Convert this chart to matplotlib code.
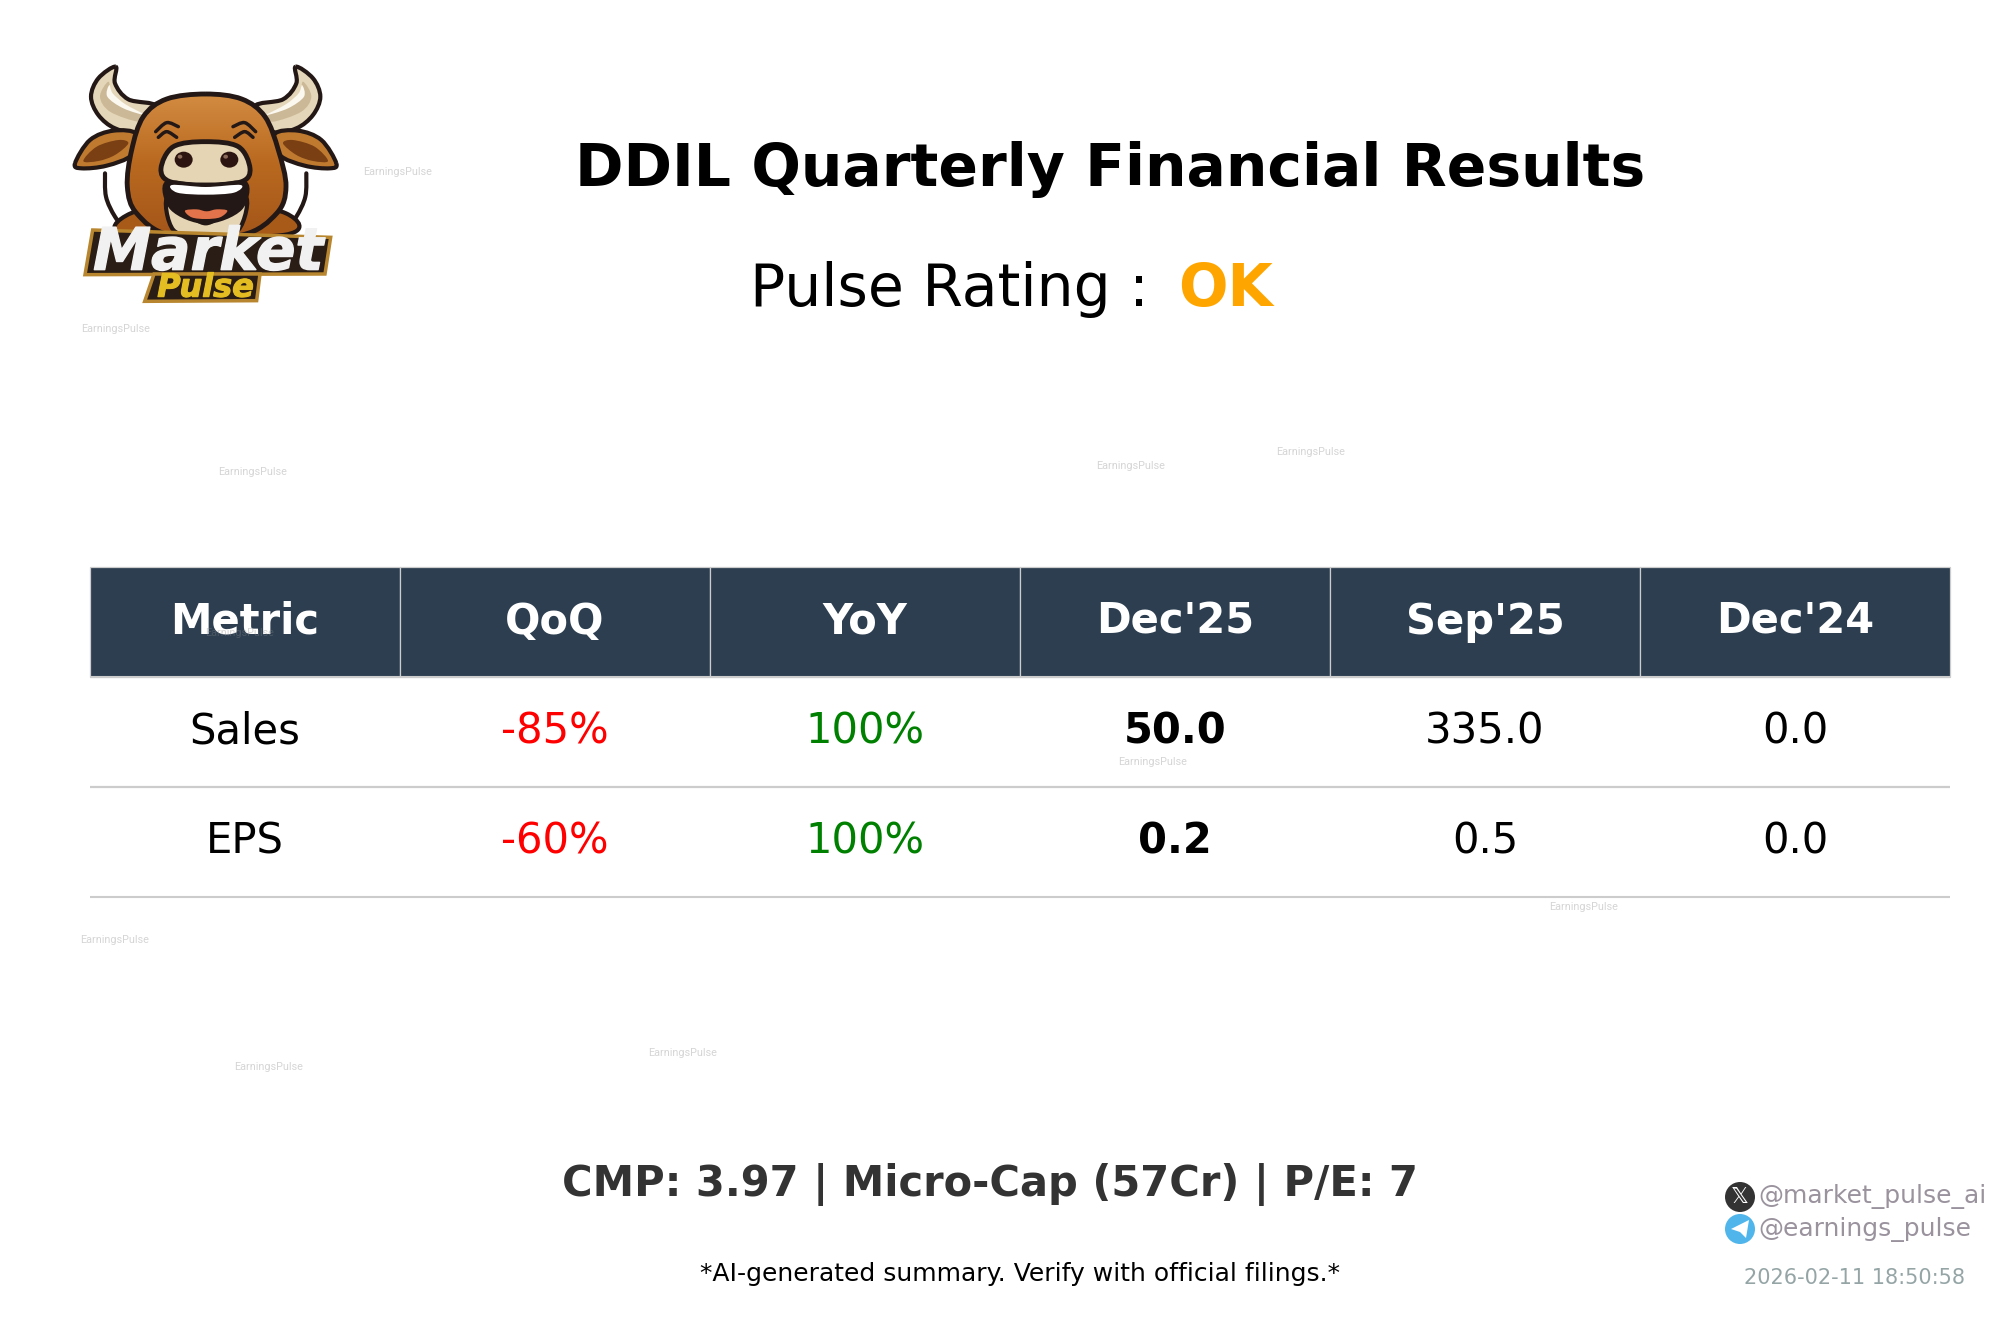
import numpy as np
import matplotlib
matplotlib.use("Agg")
import matplotlib.pyplot as plt
import matplotlib.patheffects as pe
from matplotlib.colors import LinearSegmentedColormap
from matplotlib.path import Path
from matplotlib.patches import PathPatch, Circle, Ellipse, Polygon

W, H = 2016, 1318

columns = ["Metric", "QoQ", "YoY", "Dec'25", "Sep'25", "Dec'24"]
metrics = ["Sales", "EPS"]
qoq = ["-85%", "-60%"]
yoy = ["100%", "100%"]
dec25 = ["50.0", "0.2"]
sep25 = ["335.0", "0.5"]
dec24 = ["0.0", "0.0"]

# watermark centres, pixels of the full image
wm_x = [398, 116, 253, 1131, 1311, 1153, 1584, 115, 269, 683, 240]
wm_y = [172, 329, 472, 466, 452, 762, 907, 940, 1067, 1053, 633]


def smooth(pts, closed=True):
    # catmull-rom through the points, turned into bezier segments
    p = np.array(pts, dtype=float)
    n = len(p)
    verts = [p[0]]
    codes = [Path.MOVETO]
    last = n if closed else n - 1
    for i in range(last):
        if closed:
            p0, p1, p2, p3 = p[(i - 1) % n], p[i], p[(i + 1) % n], p[(i + 2) % n]
        else:
            p0, p1, p2, p3 = p[max(i - 1, 0)], p[i], p[i + 1], p[min(i + 2, n - 1)]
        verts += [p1 + (p2 - p0) / 6, p2 - (p3 - p1) / 6, p2]
        codes += [Path.CURVE4] * 3
    return Path(verts, codes)


def mirror(pts):
    return [(1234 - x, y) for x, y in pts]


def blob(ax, pts, fc, ec="none", lw=0, z=1):
    patch = PathPatch(smooth(pts), fc=fc, ec=ec, lw=lw, zorder=z, joinstyle="round")
    ax.add_patch(patch)
    return patch


def stroke(ax, pts, color="#231815", lw=3.5, z=1):
    ax.add_patch(PathPatch(smooth(pts, closed=False), fc="none", ec=color, lw=lw, zorder=z, capstyle="round"))


def draw_logo(fig):
    ax = fig.add_axes([0, 1 - 360 / H, 500 / W, 360 / H])
    ax.set_xlim(0, 1500)
    ax.set_ylim(1080, 0)
    ax.axis("off")
    dark = "#231815"

    horn = [(347, 200), (295, 235), (273, 290), (295, 345), (345, 385), (415, 395), (470, 320), (385, 298), (345, 250)]
    horn_in = [(325, 245), (300, 290), (330, 335), (415, 365), (430, 345), (370, 318), (335, 285)]
    horn_hi = [(328, 255), (322, 290), (370, 325), (435, 345), (375, 312), (338, 280)]
    ear = [(225, 490), (270, 420), (340, 392), (410, 402), (395, 465), (320, 497), (245, 505)]
    ear_in = [(250, 483), (290, 440), (355, 420), (385, 430), (345, 465), (295, 483)]
    for f in (lambda q: q, mirror):
        blob(ax, f(horn), "#e4d6b8", dark, 3, 1)
        blob(ax, f(horn_in), "#cbb896", z=2)
        blob(ax, f(horn_hi), "#fbf8f0", z=3)
        blob(ax, f(ear), "#c07a30", dark, 3, 2)
        blob(ax, f(ear_in), "#7a4014", z=3)
        stroke(ax, f([(315, 520), (318, 590), (345, 650), (385, 700)]), lw=3, z=1)
        stroke(ax, f([(467, 395), (500, 368), (535, 380)]), lw=2.5, z=6)
        stroke(ax, f([(475, 412), (500, 395), (530, 412)]), lw=2.5, z=6)

    # neck and head, the head filled with a vertical gradient
    blob(ax, [(392, 640), (385, 705), (850, 705), (858, 640), (620, 600)], "#a85a18", dark, 3, 3)
    head = [(617, 282), (500, 297), (430, 350), (395, 450), (382, 560), (410, 640), (510, 705),
            (725, 705), (830, 640), (858, 560), (835, 450), (795, 350), (725, 297)]
    outline = blob(ax, head, "none", dark, 3.5, 5)
    fill = LinearSegmentedColormap.from_list("hide", ["#d28c42", "#b9691f", "#a4561a"])
    im = ax.imshow(np.linspace(0, 1, 256).reshape(-1, 1), cmap=fill, extent=(380, 860, 705, 282),
                   aspect="auto", zorder=4)
    im.set_clip_path(outline)
    ax.set_xlim(0, 1500)
    ax.set_ylim(1080, 0)

    # muzzle
    blob(ax, [(617, 425), (520, 440), (483, 505), (510, 545), (617, 555), (725, 545), (750, 505), (715, 440)], "#e6d5b4", dark, 3.5, 7)
    ax.add_patch(Ellipse((551, 479), 54, 48, fc="#2c1510", ec="none", zorder=8))
    ax.add_patch(Ellipse((688, 479), 54, 48, fc="#2c1510", ec="none", zorder=8))
    ax.add_patch(Ellipse((540, 470), 14, 12, fc="#8a6a58", ec="none", zorder=9))
    ax.add_patch(Ellipse((677, 470), 14, 12, fc="#8a6a58", ec="none", zorder=9))

    # mouth
    blob(ax, [(505, 590), (520, 690), (617, 715), (715, 690), (735, 590), (617, 670)], "#e6d5b4", dark, 3, 7)
    blob(ax, [(495, 545), (617, 553), (740, 545), (725, 630), (617, 672), (512, 630)], dark, z=8)
    blob(ax, [(516, 555), (617, 561), (722, 555), (702, 578), (617, 584), (532, 578)], "#ffffff", z=9)
    blob(ax, [(555, 632), (590, 628), (620, 634), (650, 628), (682, 632), (660, 652), (617, 657), (575, 652)], "#e2734a", z=9)

    # name plate
    ax.add_patch(Polygon([(278, 690), (992, 712), (975, 822), (255, 824)], fc="#2a1d15", ec="#b8862e", lw=2.5, zorder=10))
    ax.add_patch(Polygon([(462, 822), (780, 822), (770, 902), (434, 904)], fc="#2a1d15", ec="#b8862e", lw=2.5, zorder=10))
    ax.text(625, 809, "Market", ha="center", va="baseline", fontsize=42, fontweight="heavy", style="oblique",
            color="#f1f1f1", family="DejaVu Sans", zorder=11,
            path_effects=[pe.withStroke(linewidth=1, foreground="#f1f1f1")])
    ax.text(617, 890, "Pulse", ha="center", va="baseline", fontsize=23, fontweight="heavy", style="oblique",
            color="#e4bd22", family="DejaVu Sans", zorder=11,
            path_effects=[pe.withStroke(linewidth=0.8, foreground="#e4bd22")])


fig = plt.figure(figsize=(W / 100, H / 100), dpi=100, facecolor="white")
ax = fig.add_axes([0, 0, 1, 1])
ax.set_xlim(0, W)
ax.set_ylim(H, 0)
ax.axis("off")

draw_logo(fig)

# headline
ax.text(1110, 170, "DDIL Quarterly Financial Results", ha="center", va="center", fontsize=42, fontweight="bold")
ax.text(750, 289.5, "Pulse Rating :", ha="left", va="center", fontsize=42)
ax.text(1178, 289.5, "OK", ha="left", va="center", fontsize=42, fontweight="bold", color="orange")

# table
left, right, top, bottom = 89.5, 1950, 567, 897
rows = [list(r) for r in zip(metrics, qoq, yoy, dec25, sep25, dec24)]
tbl = ax.table(cellText=rows, colLabels=columns, cellLoc="center",
               bbox=[left / W, 1 - bottom / H, (right - left) / W, (bottom - top) / H])
tbl.auto_set_font_size(False)
tbl.set_fontsize(30)
for (r, c), cell in tbl.get_celld().items():
    cell.set_edgecolor("#cccccc")
    cell.set_linewidth(1.5)
    if r == 0:
        cell.set_linewidth(0.9)
        cell.set_facecolor("#2c3e50")
        cell.get_text().set_color("white")
        cell.get_text().set_fontweight("bold")
    else:
        cell.visible_edges = "horizontal"
        if c == 1:
            cell.get_text().set_color("red")
        elif c == 2:
            cell.get_text().set_color("green")
        elif c == 3:
            cell.get_text().set_fontweight("bold")

# footer
ax.text(989.5, 1184.5, "CMP: 3.97 | Micro-Cap (57Cr) | P/E: 7", ha="center", va="center", fontsize=30,
        fontweight="bold", color="#333333")
ax.text(1019.5, 1274, "*AI-generated summary. Verify with official filings.*", ha="center", va="center", fontsize=18)

# handles
ax.add_patch(Circle((1740, 1197), 15, fc="#333333", ec="none"))
ax.text(1740, 1197, "\U0001D54F", ha="center", va="center", fontsize=16, color="white", family="DejaVu Sans")
ax.add_patch(Circle((1740, 1229), 15, fc="#50b5ea", ec="none"))
ax.add_patch(Polygon([(1731, 1229), (1749, 1220), (1746, 1238), (1740, 1232)], fc="white", ec="none", zorder=5))
ax.text(1758, 1196.5, "@market_pulse_ai", ha="left", va="center", fontsize=18, color="#9a939e")
ax.text(1758, 1229.5, "@earnings_pulse", ha="left", va="center", fontsize=18, color="#9a939e")
ax.text(1854, 1278, "2026-02-11 18:50:58", ha="center", va="center", fontsize=15, color="#95a5a6")

# watermarks
for x, y in zip(wm_x, wm_y):
    ax.text(x, y, "EarningsPulse", ha="center", va="center", fontsize=7.8, color="#888888", alpha=0.35,
            family="Roboto", zorder=20)

fig.savefig("out.png", dpi=100)
